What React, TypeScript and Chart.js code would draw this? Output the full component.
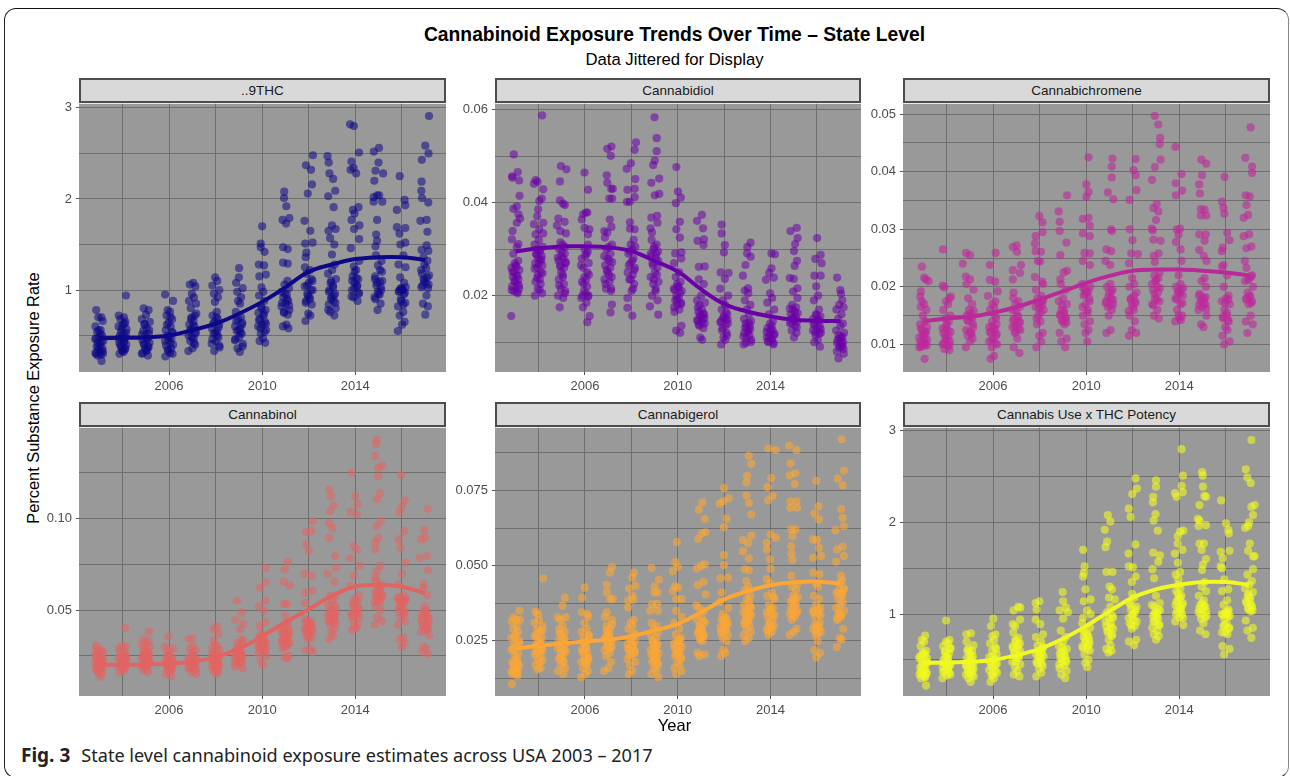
import React, { useEffect, useRef } from "react";
import { Chart, registerables } from "chart.js";

Chart.register(...registerables);

const YEARS = [2003, 2004, 2005, 2006, 2007, 2008, 2009, 2010, 2011, 2012, 2013, 2014, 2015, 2016, 2017];
const X_LABELS = [2006, 2010, 2014];
const X_GRID = [2004, 2006, 2008, 2010, 2012, 2014, 2016];
const JITTER = [-0.13, 0.09, -0.04, 0.15, -0.16, 0.06, -0.09, 0.12, 0.01, -0.17, 0.17, -0.06, 0.04, -0.11, 0.13, -0.02, 0.07, -0.14, 0.16, -0.07, 0.1, -0.03, 0.05];

// ---- ..9THC
const thcTrend = [0.47, 0.475, 0.48, 0.5, 0.56, 0.63, 0.74, 0.87, 1.03, 1.2, 1.28, 1.34, 1.36, 1.36, 1.33];
const thcDense = [
  [0.78, 0.7, 0.7, 0.66, 0.6, 0.56, 0.54, 0.5, 0.48, 0.46, 0.44, 0.42, 0.4, 0.38, 0.36, 0.34, 0.32, 0.3, 0.3, 0.28, 0.22],
  [0.94, 0.72, 0.7, 0.68, 0.65, 0.62, 0.6, 0.57, 0.54, 0.52, 0.5, 0.48, 0.46, 0.44, 0.42, 0.4, 0.38, 0.36, 0.34, 0.32, 0.3],
  [0.8, 0.78, 0.73, 0.68, 0.65, 0.62, 0.58, 0.55, 0.52, 0.5, 0.47, 0.45, 0.42, 0.4, 0.38, 0.36, 0.34, 0.31, 0.28],
  [0.95, 0.88, 0.78, 0.76, 0.72, 0.68, 0.64, 0.6, 0.56, 0.53, 0.5, 0.47, 0.45, 0.42, 0.39, 0.36, 0.33, 0.3, 0.27],
  [1.08, 1.06, 1.04, 0.96, 0.92, 0.88, 0.85, 0.8, 0.72, 0.7, 0.66, 0.62, 0.6, 0.57, 0.54, 0.5, 0.47, 0.44, 0.4, 0.36, 0.33],
  [1.14, 1.1, 1.05, 1.0, 0.96, 0.92, 0.87, 0.76, 0.72, 0.68, 0.65, 0.62, 0.58, 0.55, 0.52, 0.48, 0.44, 0.41, 0.37, 0.33],
  [1.02, 0.98, 0.92, 0.88, 0.85, 0.76, 0.7, 0.68, 0.64, 0.6, 0.58, 0.55, 0.52, 0.48, 0.45, 0.41, 0.36, 0.32],
  [1.03, 0.98, 0.94, 0.88, 0.82, 0.78, 0.75, 0.72, 0.68, 0.65, 0.62, 0.6, 0.56, 0.52, 0.47, 0.44, 0.42],
  [1.1, 1.06, 1.02, 0.98, 0.95, 0.92, 0.88, 0.85, 0.82, 0.78, 0.75, 0.62, 0.6, 0.58],
  [1.25, 1.22, 1.18, 1.12, 1.08, 1.04, 1.0, 0.96, 0.92, 0.88, 0.84, 0.74, 0.72, 0.66],
  [1.28, 1.22, 1.18, 1.12, 1.08, 1.05, 1.0, 0.96, 0.92, 0.88, 0.84, 0.8, 0.76, 0.72],
  [1.32, 1.26, 1.22, 1.15, 1.12, 1.08, 1.04, 1.0, 0.96, 0.92, 0.88],
  [1.38, 1.32, 1.27, 1.22, 1.15, 1.1, 1.08, 1.03, 0.98, 0.95, 0.9, 0.85, 0.78],
  [1.38, 1.28, 1.25, 1.14, 1.08, 1.02, 1.0, 0.98, 0.95, 0.9, 0.86, 0.82, 0.76, 0.72, 0.65, 0.62, 0.55],
  [1.36, 1.32, 1.28, 1.24, 1.18, 1.14, 1.1, 1.06, 1.03, 0.94, 0.85, 0.82, 0.73],
];
const thcCore = [
  [0.56, 0.52, 0.47, 0.43, 0.37, 0.33, 0.31, 0.29], [0.63, 0.58, 0.53, 0.47, 0.43, 0.39, 0.35, 0.33], [0.63, 0.56, 0.51, 0.46, 0.41, 0.37, 0.33, 0.3],
  [0.7, 0.62, 0.54, 0.49, 0.44, 0.4, 0.35, 0.31], [0.74, 0.68, 0.61, 0.55, 0.52, 0.48, 0.42], [0.7, 0.63, 0.59, 0.53, 0.5, 0.46, 0.39],
  [0.66, 0.62, 0.56, 0.53, 0.46, 0.38], [0.8, 0.74, 0.67, 0.63, 0.58, 0.54], [0.96, 0.9, 0.86, 0.83, 0.76, 0.73], [1.1, 1.05, 1.0, 0.94, 0.9, 0.86],
  [1.1, 1.03, 0.98, 0.94, 0.9, 0.86, 0.78], [1.2, 1.13, 1.1, 1.05, 1.02, 0.97, 0.93], [1.2, 1.12, 1.09, 1.05, 1.0, 0.96, 0.92], [1.03, 1.01, 1.0, 0.99, 0.97, 0.88, 0.84], [1.22, 1.16, 1.12, 1.08, 1.05, 1.02],
];
const thcUpper = [
  [2017.17, 2.91], [2017.01, 2.585], [2017.15, 2.5], [2016.86, 2.43], [2016.85, 2.19], [2016.84, 2.09], [2016.87, 2.01], [2017.14, 1.96], [2016.8, 1.76], [2017.07, 1.77], [2017.1, 1.64], [2017.07, 1.49], [2016.85, 1.44], [2017.14, 1.43],
  [2015.91, 2.25], [2016.12, 1.99], [2016.15, 1.93], [2015.79, 1.88], [2015.79, 1.69], [2016.15, 1.68], [2015.9, 1.62], [2016.15, 1.52], [2015.94, 1.5],
  [2015.02, 2.56], [2014.8, 2.52], [2015, 2.4], [2014.87, 2.31], [2015.2, 2.28], [2014.82, 2.2], [2014.94, 2.04], [2014.79, 2.02], [2014.79, 1.97], [2015.16, 1.97], [2015.03, 2.04], [2014.94, 1.77], [2014.9, 1.61], [2014.94, 1.54], [2014.87, 1.48],
  [2013.78, 2.82], [2013.94, 2.8], [2014.16, 2.51], [2013.84, 2.41], [2013.8, 2.32], [2013.93, 2.34], [2014.04, 2.28], [2013.9, 1.88], [2014.14, 1.91], [2013.97, 1.84], [2013.84, 1.77], [2014.18, 1.71], [2013.95, 1.67], [2014.17, 1.56], [2013.81, 1.46],
  [2012.81, 2.47], [2012.86, 2.4], [2012.89, 2.28], [2013.05, 2.22], [2013.14, 2.09], [2012.84, 2.03], [2013.07, 1.91], [2013, 1.71], [2012.85, 1.65], [2013.16, 1.67], [2012.92, 1.57], [2013.1, 1.5], [2013, 1.39],
  [2012.18, 2.48], [2011.88, 2.37], [2012.1, 2.32], [2012.14, 2.16], [2011.96, 2.06], [2011.82, 1.76], [2012.07, 1.65], [2011.85, 1.51], [2012.17, 1.52], [2011.9, 1.41], [2011.87, 1.36],
  [2010.95, 2.08], [2010.94, 2.01], [2011.04, 1.92], [2010.88, 1.77], [2011.17, 1.79], [2011.03, 1.73], [2010.9, 1.47], [2011.1, 1.45], [2010.9, 1.3], [2011.1, 1.29],
  [2010, 1.7], [2009.94, 1.51], [2009.94, 1.47], [2010.1, 1.42], [2009.86, 1.28], [2010.08, 1.27], [2009.88, 1.15], [2010.16, 1.17],
  [2009.01, 1.24], [2009, 1.14], [2008.88, 1.08],
];

// ---- Cannabidiol
const cbdTrend = [0.0295, 0.0302, 0.0306, 0.0306, 0.0304, 0.0296, 0.0275, 0.0252, 0.0214, 0.0182, 0.0166, 0.0155, 0.0148, 0.0146, 0.0145];
const cbdDense = [
  [0.0305, 0.029, 0.0275, 0.0265, 0.026, 0.0255, 0.025, 0.0245, 0.024, 0.0235, 0.023, 0.0225, 0.022, 0.0215, 0.021, 0.0205],
  [0.032, 0.031, 0.0305, 0.03, 0.0295, 0.029, 0.0285, 0.028, 0.0275, 0.027, 0.0265, 0.026, 0.025, 0.0245, 0.0235, 0.023, 0.0225, 0.0215, 0.0205, 0.02],
  [0.0315, 0.031, 0.03, 0.029, 0.0285, 0.028, 0.0275, 0.027, 0.0265, 0.026, 0.025, 0.024, 0.0235, 0.0225, 0.0215, 0.021, 0.02, 0.0195, 0.0175],
  [0.031, 0.03, 0.029, 0.028, 0.027, 0.026, 0.025, 0.024, 0.0235, 0.023, 0.022, 0.021, 0.02, 0.0195, 0.0185, 0.0175],
  [0.0325, 0.031, 0.03, 0.029, 0.028, 0.0275, 0.0265, 0.026, 0.025, 0.024, 0.0235, 0.023, 0.0215, 0.021],
  [0.032, 0.031, 0.03, 0.029, 0.028, 0.027, 0.026, 0.025, 0.0245, 0.0235, 0.0225, 0.021, 0.0195],
  [0.032, 0.031, 0.03, 0.0295, 0.029, 0.028, 0.027, 0.026, 0.025, 0.024, 0.023, 0.0225, 0.021, 0.02, 0.019],
  [0.028, 0.027, 0.025, 0.024, 0.023, 0.022, 0.0215, 0.021, 0.02, 0.0195, 0.019, 0.0185, 0.018, 0.017, 0.0165, 0.0135, 0.0125, 0.012],
  [0.0235, 0.0225, 0.02, 0.019, 0.0185, 0.018, 0.017, 0.0165, 0.016, 0.0155, 0.015, 0.0145, 0.014, 0.0135, 0.013, 0.011, 0.0105],
  [0.0215, 0.02, 0.019, 0.018, 0.017, 0.016, 0.0155, 0.015, 0.0145, 0.014, 0.013, 0.012, 0.011, 0.0105, 0.0095],
  [0.0205, 0.019, 0.018, 0.017, 0.016, 0.015, 0.0145, 0.014, 0.0135, 0.013, 0.0125, 0.012, 0.0115, 0.011, 0.01, 0.0095],
  [0.0205, 0.0195, 0.0185, 0.017, 0.016, 0.0145, 0.014, 0.0135, 0.013, 0.0125, 0.012, 0.0115, 0.011, 0.0105, 0.01, 0.0095],
  [0.0195, 0.018, 0.0175, 0.017, 0.0165, 0.016, 0.0155, 0.015, 0.0145, 0.014, 0.0135, 0.0125, 0.012, 0.011],
  [0.022, 0.02, 0.019, 0.017, 0.016, 0.0155, 0.015, 0.0145, 0.014, 0.0135, 0.013, 0.0125, 0.012, 0.0115, 0.0105, 0.01, 0.009],
  [0.019, 0.018, 0.0175, 0.017, 0.016, 0.015, 0.014, 0.0135, 0.0125, 0.012, 0.0115, 0.011, 0.0105, 0.01, 0.0095, 0.009, 0.008, 0.0075, 0.0065],
];
const cbdCore = [
  [0.027, 0.0262, 0.0252, 0.0242, 0.0232, 0.0222, 0.0212, 0.0208], [0.0298, 0.0288, 0.0278, 0.0268, 0.0258, 0.0248, 0.0238, 0.0212], [0.0305, 0.0295, 0.0282, 0.0272, 0.0262, 0.0245, 0.0222, 0.0205],
  [0.0295, 0.0285, 0.0265, 0.0245, 0.0225, 0.0205, 0.02, 0.0198], [0.0305, 0.0285, 0.0272, 0.0255, 0.0245, 0.0225, 0.0215], [0.0305, 0.0295, 0.0275, 0.0265, 0.0255, 0.0235, 0.0215],
  [0.0305, 0.029, 0.0285, 0.0275, 0.0265, 0.0245, 0.0235, 0.0215], [0.0225, 0.0218, 0.0212, 0.0205, 0.0192, 0.0182, 0.0175], [0.0175, 0.0162, 0.0158, 0.0152, 0.0148, 0.0142, 0.0138],
  [0.0165, 0.0152, 0.0148, 0.0142, 0.0135, 0.0125, 0.0115], [0.0142, 0.0132, 0.0128, 0.0122, 0.0112, 0.0105, 0.0098], [0.0128, 0.0122, 0.0118, 0.0112, 0.0108, 0.0102, 0.0098],
  [0.0172, 0.0162, 0.0152, 0.0148, 0.0142, 0.0132], [0.0158, 0.0148, 0.0138, 0.0128, 0.0122, 0.0118], [0.0112, 0.0108, 0.0102, 0.0098, 0.0092, 0.0088, 0.0085],
];
const cbdUpper = [
  [2002.93, 0.0504], [2002.86, 0.0457], [2002.87, 0.0454], [2003.1, 0.0466], [2003.16, 0.0448], [2003.18, 0.0415], [2003.06, 0.0392], [2002.91, 0.0387], [2003.13, 0.0375], [2003.2, 0.0366], [2003.06, 0.0357], [2002.88, 0.0339], [2002.85, 0.0321], [2003.13, 0.0311], [2002.82, 0.0156],
  [2004.15, 0.0588], [2003.87, 0.0449], [2003.8, 0.0441], [2003.95, 0.0445], [2004.2, 0.0429], [2004.13, 0.0409], [2004.03, 0.0404], [2003.98, 0.0386], [2003.94, 0.0371], [2003.8, 0.0354], [2004.2, 0.0357], [2004.03, 0.0343], [2003.87, 0.0332], [2004.2, 0.0334],
  [2004.96, 0.0479], [2005.2, 0.0472], [2004.92, 0.0446], [2004.92, 0.0405], [2005.13, 0.0395], [2005.06, 0.0398], [2004.85, 0.0366], [2005.12, 0.0359], [2004.79, 0.0351], [2004.94, 0.0339], [2005.18, 0.0334],
  [2005.98, 0.0465], [2006.13, 0.0428], [2006.04, 0.0379], [2005.92, 0.0375], [2006.1, 0.0379], [2005.86, 0.0364], [2006.19, 0.0343], [2005.98, 0.0346], [2006.13, 0.0332], [2006.2, 0.0156], [2006.1, 0.0143],
  [2006.96, 0.0516], [2007.14, 0.0521], [2007.11, 0.0501], [2006.94, 0.0459], [2006.96, 0.0443], [2007.13, 0.043], [2007.2, 0.043], [2007.05, 0.0409], [2007.17, 0.0409], [2007.07, 0.0364], [2006.83, 0.0339], [2007.14, 0.0348], [2006.96, 0.0336], [2007.16, 0.0181], [2007.1, 0.0164],
  [2008.2, 0.053], [2008.14, 0.0514], [2007.98, 0.0485], [2007.8, 0.0473], [2008.17, 0.0451], [2007.83, 0.0428], [2008.14, 0.043], [2008.14, 0.0412], [2007.81, 0.0402], [2007.93, 0.0402], [2007.94, 0.0358], [2008.14, 0.0343], [2007.94, 0.0344], [2007.83, 0.0174], [2008.04, 0.0157],
  [2009, 0.0584], [2009.09, 0.0539], [2009.09, 0.0511], [2009.01, 0.0491], [2008.94, 0.0481], [2009.2, 0.0452], [2008.86, 0.0443], [2009.01, 0.0416], [2009.2, 0.0419], [2008.86, 0.0368], [2009.11, 0.0372], [2009.13, 0.0357], [2008.83, 0.0345], [2008.89, 0.0336], [2008.8, 0.0177], [2009.16, 0.0159],
  [2009.94, 0.0477], [2010.01, 0.0424], [2010.13, 0.0411], [2009.92, 0.0399], [2010.09, 0.0359], [2009.94, 0.0343], [2010.09, 0.0325], [2010.16, 0.0293], [2009.89, 0.0291],
  [2011.04, 0.0374], [2010.83, 0.0361], [2011.09, 0.0345], [2011.13, 0.0321], [2010.85, 0.0318], [2011.11, 0.0309], [2011.16, 0.0263], [2010.91, 0.0262],
  [2011.89, 0.0353], [2011.89, 0.0334], [2012.03, 0.0309], [2011.99, 0.0293], [2011.85, 0.025], [2012.19, 0.0249], [2012.03, 0.0236],
  [2013.14, 0.0314], [2013, 0.0305], [2012.99, 0.0291], [2013.14, 0.0284], [2012.92, 0.0266], [2012.81, 0.0243], [2013.03, 0.0216], [2012.89, 0.0211],
  [2014.04, 0.0291], [2014.19, 0.0289], [2014.04, 0.0259], [2013.94, 0.0249], [2014.14, 0.0239], [2013.8, 0.0234],
  [2014.86, 0.0339], [2015.13, 0.0346], [2015.17, 0.0324], [2015.06, 0.0311], [2015.01, 0.0296], [2015.14, 0.0275], [2015.04, 0.0264], [2014.83, 0.0238], [2015, 0.0236], [2015.16, 0.0216], [2014.97, 0.0209],
  [2016.01, 0.0324], [2016.16, 0.0288], [2015.93, 0.0279], [2016.2, 0.027], [2015.89, 0.0243], [2016.16, 0.0243],
  [2016.87, 0.0239], [2017.01, 0.0212], [2017.04, 0.0204],
];

// ---- Cannabichromene
const cbcTrend = [0.014, 0.0145, 0.0148, 0.0155, 0.0165, 0.0178, 0.0192, 0.0207, 0.0219, 0.0228, 0.023, 0.023, 0.0228, 0.0225, 0.022];
const cbcDense = [
  [0.0175, 0.017, 0.0165, 0.016, 0.015, 0.014, 0.0135, 0.013, 0.0125, 0.012, 0.0115, 0.011, 0.0105, 0.0102, 0.01, 0.0098, 0.0095, 0.0075],
  [0.018, 0.0175, 0.017, 0.016, 0.015, 0.0145, 0.014, 0.013, 0.0125, 0.012, 0.0115, 0.011, 0.0105, 0.01, 0.0098, 0.0092, 0.009],
  [0.0205, 0.0195, 0.018, 0.017, 0.016, 0.0155, 0.015, 0.0145, 0.014, 0.013, 0.0125, 0.012, 0.0115, 0.011, 0.0105, 0.0095],
  [0.0175, 0.017, 0.0165, 0.016, 0.015, 0.014, 0.0135, 0.013, 0.0125, 0.012, 0.0115, 0.011, 0.0105, 0.01, 0.0095, 0.008, 0.0075],
  [0.018, 0.0175, 0.017, 0.0165, 0.016, 0.015, 0.0145, 0.014, 0.0135, 0.013, 0.0125, 0.012, 0.011, 0.0095, 0.0085],
  [0.0205, 0.0195, 0.0185, 0.018, 0.0175, 0.017, 0.0165, 0.016, 0.015, 0.014, 0.0135, 0.012, 0.0115, 0.0105, 0.0095],
  [0.0205, 0.0195, 0.018, 0.0175, 0.017, 0.016, 0.0155, 0.015, 0.0145, 0.014, 0.0135, 0.012, 0.011, 0.0105, 0.0095],
  [0.0205, 0.02, 0.0195, 0.019, 0.0185, 0.018, 0.017, 0.016, 0.015, 0.014, 0.0135, 0.0125, 0.012, 0.0105],
  [0.0205, 0.02, 0.0195, 0.019, 0.018, 0.0175, 0.017, 0.0165, 0.016, 0.015, 0.0125, 0.012],
  [0.0215, 0.0205, 0.02, 0.019, 0.018, 0.0175, 0.017, 0.016, 0.015, 0.014, 0.0125, 0.012, 0.0115],
  [0.0225, 0.022, 0.0215, 0.021, 0.02, 0.0195, 0.019, 0.018, 0.0175, 0.017, 0.016, 0.015, 0.0145],
  [0.022, 0.0205, 0.02, 0.0195, 0.019, 0.0185, 0.018, 0.017, 0.016, 0.015, 0.0145, 0.014],
  [0.0215, 0.021, 0.02, 0.0185, 0.018, 0.0175, 0.017, 0.0165, 0.016, 0.015, 0.0135, 0.013],
  [0.0235, 0.022, 0.02, 0.0185, 0.018, 0.0175, 0.017, 0.016, 0.015, 0.0145, 0.014, 0.013, 0.0125, 0.0115, 0.0105, 0.01],
  [0.022, 0.0215, 0.021, 0.02, 0.019, 0.0185, 0.018, 0.0175, 0.017, 0.015, 0.014, 0.0135, 0.012],
];
const cbcCore = [
  [0.0128, 0.0122, 0.0118, 0.0112, 0.0108, 0.0102, 0.0098, 0.0096], [0.0135, 0.0128, 0.0122, 0.0115, 0.0108, 0.0102, 0.0098], [0.0158, 0.015, 0.0148, 0.0142, 0.0135, 0.0122, 0.0118],
  [0.0145, 0.0132, 0.0128, 0.0122, 0.0118, 0.0108, 0.0102], [0.0158, 0.0148, 0.0142, 0.0138, 0.0132, 0.0128, 0.0122], [0.0178, 0.0172, 0.0168, 0.0162, 0.0155, 0.0145],
  [0.0168, 0.0158, 0.0152, 0.0148, 0.0142, 0.0138], [0.0198, 0.0192, 0.0188, 0.0175, 0.0165, 0.0155], [0.0192, 0.0182, 0.0178, 0.0172, 0.0168],
  [0.0185, 0.0178, 0.0172, 0.0165, 0.0158], [0.0212, 0.0205, 0.0198, 0.0188, 0.0178, 0.0168], [0.0198, 0.0192, 0.0188, 0.0178, 0.0172, 0.015, 0.0142],
  [0.0188, 0.0182, 0.0178, 0.0172, 0.0168, 0.0162], [0.0178, 0.0172, 0.0155, 0.0148, 0.0142], [0.0218, 0.0212, 0.0182, 0.0178, 0.0172],
];
const cbcUpper = [
  [2002.94, 0.0235], [2003.04, 0.0216], [2003.11, 0.0213], [2003.23, 0.021], [2002.9, 0.0192], [2002.87, 0.0183],
  [2003.85, 0.0265], [2003.91, 0.0199], [2003.84, 0.0202], [2004.19, 0.0183],
  [2004.84, 0.0259], [2005.01, 0.0255], [2004.7, 0.024], [2004.83, 0.0218], [2005.01, 0.0213],
  [2006.11, 0.0259], [2005.86, 0.0238], [2005.86, 0.0212], [2006.09, 0.0209], [2006.2, 0.0192], [2005.78, 0.0184],
  [2006.85, 0.0269], [2007.01, 0.0272], [2007.03, 0.0261], [2007.2, 0.0238], [2006.85, 0.0229], [2007.16, 0.0224], [2006.85, 0.0213], [2006.88, 0.019],
  [2007.99, 0.0323], [2008.12, 0.0312], [2008.13, 0.0295], [2007.83, 0.0288], [2007.8, 0.0275], [2008.06, 0.0261], [2007.83, 0.0262], [2007.93, 0.0245], [2008.02, 0.0244], [2007.8, 0.0217], [2008.1, 0.0209],
  [2009.18, 0.0359], [2008.82, 0.0331], [2008.86, 0.0313], [2008.86, 0.0297], [2009.15, 0.0277], [2008.89, 0.0255], [2009.18, 0.0228], [2009.04, 0.0225], [2008.89, 0.0213],
  [2010.1, 0.0425], [2010.01, 0.0378], [2010.1, 0.0365], [2010.01, 0.0356], [2009.86, 0.0318], [2010.1, 0.032], [2010.16, 0.0306], [2009.86, 0.0293], [2010.16, 0.0288], [2009.93, 0.0259], [2010.16, 0.0258], [2009.86, 0.0245], [2010.16, 0.0238],
  [2011.13, 0.0423], [2011.1, 0.0409], [2011.1, 0.039], [2010.93, 0.0364], [2011.17, 0.0352], [2011.07, 0.03], [2011.11, 0.0297], [2010.87, 0.0265], [2011.07, 0.0262], [2010.83, 0.0245], [2011.03, 0.0238],
  [2012.13, 0.0422], [2012.04, 0.0403], [2012.13, 0.0394], [2012.16, 0.0368], [2011.87, 0.0351], [2011.87, 0.03], [2011.99, 0.0281], [2011.94, 0.0258], [2012.23, 0.0257], [2011.84, 0.0241],
  [2012.95, 0.0497], [2013.1, 0.0482], [2013.18, 0.0459], [2013.16, 0.0448], [2013.2, 0.0421], [2012.95, 0.0408], [2012.83, 0.0386], [2013.03, 0.0344], [2012.89, 0.0337], [2013.1, 0.0331], [2013, 0.0316], [2012.82, 0.0301], [2012.87, 0.0298], [2012.89, 0.0282], [2013.2, 0.028], [2013.11, 0.0258], [2012.91, 0.0254], [2012.95, 0.0243],
  [2013.84, 0.0443], [2014.1, 0.0396], [2013.85, 0.038], [2014.12, 0.0367], [2013.86, 0.0359], [2013.9, 0.03], [2014.04, 0.0301], [2013.97, 0.0291], [2013.86, 0.0278], [2014.06, 0.0265], [2014.1, 0.0245],
  [2014.95, 0.0421], [2015.16, 0.0414], [2014.98, 0.0394], [2014.86, 0.0378], [2014.89, 0.0362], [2014.93, 0.0335], [2015.09, 0.0334], [2014.93, 0.0324], [2015.16, 0.0324], [2014.86, 0.0291], [2015.14, 0.0291], [2015.09, 0.028], [2014.86, 0.0264], [2015.05, 0.0254], [2015.17, 0.0245],
  [2015.95, 0.0391], [2015.84, 0.0348], [2015.9, 0.0337], [2015.94, 0.0327], [2016.06, 0.0294], [2016.16, 0.0281], [2015.87, 0.0268], [2015.83, 0.0262], [2015.9, 0.0238],
  [2017.07, 0.0477], [2016.84, 0.0424], [2017.13, 0.0409], [2017.13, 0.0398], [2016.86, 0.0359], [2017.03, 0.0357], [2016.89, 0.0342], [2016.96, 0.0325], [2016.77, 0.032], [2017, 0.0291], [2016.77, 0.0288], [2017.1, 0.027], [2016.89, 0.0267], [2016.82, 0.0245], [2016.89, 0.0233],
];

// ---- Cannabinol
const cbnTrend = [0.0201, 0.0201, 0.0203, 0.0207, 0.0219, 0.0243, 0.0288, 0.0357, 0.0433, 0.0505, 0.0578, 0.0629, 0.0638, 0.0627, 0.0592];
const cbnDense = [
  [0.029, 0.028, 0.0275, 0.027, 0.026, 0.025, 0.024, 0.023, 0.022, 0.021, 0.02, 0.019, 0.018, 0.017, 0.016, 0.015, 0.0135],
  [0.03, 0.029, 0.028, 0.027, 0.026, 0.025, 0.024, 0.023, 0.022, 0.021, 0.02, 0.019, 0.018, 0.017, 0.016],
  [0.034, 0.033, 0.032, 0.031, 0.03, 0.029, 0.028, 0.027, 0.026, 0.025, 0.024, 0.023, 0.022, 0.021, 0.02, 0.019, 0.018, 0.017, 0.016],
  [0.03, 0.029, 0.028, 0.027, 0.025, 0.024, 0.023, 0.022, 0.021, 0.02, 0.019, 0.018, 0.017, 0.016, 0.015, 0.014],
  [0.03, 0.029, 0.028, 0.026, 0.025, 0.024, 0.023, 0.022, 0.021, 0.02, 0.019, 0.018, 0.017, 0.016, 0.015],
  [0.031, 0.03, 0.029, 0.028, 0.027, 0.026, 0.025, 0.024, 0.023, 0.022, 0.021, 0.02, 0.019, 0.018, 0.017, 0.016, 0.015],
  [0.033, 0.032, 0.031, 0.03, 0.029, 0.028, 0.027, 0.026, 0.025, 0.024, 0.023, 0.022, 0.021, 0.02, 0.019, 0.018],
  [0.037, 0.036, 0.035, 0.034, 0.033, 0.032, 0.031, 0.03, 0.029, 0.028, 0.027, 0.026, 0.025, 0.022, 0.02],
  [0.042, 0.04, 0.039, 0.038, 0.037, 0.036, 0.035, 0.034, 0.033, 0.032, 0.031, 0.03, 0.029, 0.025, 0.024, 0.0235],
  [0.045, 0.044, 0.043, 0.042, 0.041, 0.04, 0.039, 0.038, 0.037, 0.036, 0.035, 0.034, 0.029, 0.028, 0.027],
  [0.057, 0.055, 0.053, 0.051, 0.05, 0.049, 0.048, 0.047, 0.046, 0.045, 0.044, 0.043, 0.042, 0.04, 0.038, 0.036, 0.034],
  [0.058, 0.056, 0.055, 0.053, 0.051, 0.05, 0.048, 0.047, 0.046, 0.044, 0.042, 0.041, 0.04, 0.039],
  [0.066, 0.064, 0.063, 0.061, 0.059, 0.058, 0.057, 0.056, 0.055, 0.054, 0.052, 0.05, 0.046, 0.044, 0.042],
  [0.058, 0.057, 0.056, 0.055, 0.054, 0.052, 0.05, 0.049, 0.048, 0.046, 0.044, 0.042, 0.035, 0.034, 0.032, 0.03],
  [0.062, 0.058, 0.052, 0.05, 0.048, 0.047, 0.046, 0.045, 0.044, 0.042, 0.041, 0.04, 0.039, 0.038, 0.036, 0.03, 0.029, 0.027, 0.026],
];
const cbnCore = [
  [0.0245, 0.0235, 0.0225, 0.0215, 0.0205, 0.0195, 0.0185, 0.0175, 0.0165], [0.0245, 0.0235, 0.0225, 0.0215, 0.0205, 0.0195, 0.0185], [0.0265, 0.0255, 0.0245, 0.0235, 0.0225, 0.0215, 0.0205, 0.0195],
  [0.0245, 0.0225, 0.0215, 0.0205, 0.0195, 0.0185, 0.0175], [0.0235, 0.0225, 0.0215, 0.0205, 0.0195, 0.0185, 0.0175], [0.0255, 0.0245, 0.0225, 0.0215, 0.0205, 0.0195, 0.0185, 0.0175],
  [0.0285, 0.0265, 0.0255, 0.0245, 0.0235, 0.0225, 0.0215], [0.0345, 0.0325, 0.0315, 0.0305, 0.0295, 0.0285], [0.0395, 0.0375, 0.0365, 0.0355, 0.0345, 0.0335, 0.0325, 0.0315],
  [0.0435, 0.0425, 0.0415, 0.0405, 0.0395, 0.0385, 0.0375], [0.0525, 0.0495, 0.0475, 0.0465, 0.0455, 0.0445, 0.0425], [0.0545, 0.0525, 0.0505, 0.0485, 0.0475, 0.0465],
  [0.0625, 0.0605, 0.0585, 0.0565, 0.0545], [0.0565, 0.0555, 0.0545, 0.0535, 0.0515, 0.0485], [0.0495, 0.0475, 0.0455, 0.0435, 0.0415, 0.0395],
];
const cbnUpper = [
  [2002.88, 0.0306], [2004.11, 0.0402], [2003.99, 0.0306], [2005.14, 0.0382], [2005.97, 0.0355], [2006.84, 0.0342], [2007, 0.0346],
  [2008.06, 0.0411], [2007.92, 0.0397], [2008.12, 0.037], [2007.92, 0.0333],
  [2008.92, 0.0551], [2009.11, 0.0487], [2008.84, 0.0447], [2009.2, 0.0424], [2009.06, 0.0397], [2009.13, 0.0342],
  [2010.14, 0.073], [2010.14, 0.065], [2009.9, 0.0623], [2009.86, 0.052], [2010.14, 0.0551], [2010.07, 0.0496], [2009.9, 0.0415], [2010.14, 0.0433],
  [2011.1, 0.0764], [2010.97, 0.0723], [2010.93, 0.0656], [2011.18, 0.0636], [2011.07, 0.0533], [2010.93, 0.0533], [2011, 0.0469], [2011.1, 0.0433],
  [2012.17, 0.0986], [2011.88, 0.0926], [2012.1, 0.0931], [2011.9, 0.0859], [2012, 0.0822], [2011.82, 0.0696], [2012.14, 0.0687], [2011.86, 0.0596], [2012.17, 0.0605], [2011.86, 0.0538],
  [2012.89, 0.1158], [2012.96, 0.1121], [2013.07, 0.1072], [2012.92, 0.104], [2012.88, 0.0976], [2013.03, 0.0949], [2012.88, 0.0895], [2013.14, 0.0795], [2013.18, 0.0732], [2012.82, 0.0699], [2013.11, 0.0654], [2012.92, 0.0578],
  [2013.86, 0.125], [2014, 0.1121], [2014.1, 0.1076], [2013.81, 0.1036], [2014.07, 0.1022], [2013.93, 0.085], [2014.07, 0.0828], [2013.78, 0.0783], [2014.18, 0.0741], [2013.93, 0.0687], [2013.78, 0.0632],
  [2014.93, 0.1429], [2014.9, 0.1406], [2014.86, 0.1342], [2015.16, 0.129], [2014.99, 0.1275], [2014.99, 0.123], [2015.06, 0.1139], [2014.93, 0.1107], [2015.09, 0.0986], [2014.93, 0.0958], [2015, 0.0895], [2014.86, 0.0868], [2014.86, 0.0832], [2015.09, 0.0741], [2014.93, 0.0714], [2014.86, 0.0678],
  [2015.97, 0.1239], [2016.13, 0.11], [2016.01, 0.1067], [2015.9, 0.1034], [2016.11, 0.0931], [2015.87, 0.0886], [2015.94, 0.0841], [2016.15, 0.0759], [2016.01, 0.0696], [2015.87, 0.0641],
  [2017.11, 0.1053], [2016.97, 0.0937], [2016.83, 0.0886], [2017.01, 0.0895], [2016.77, 0.0786], [2017.09, 0.0795], [2017.13, 0.0717], [2016.93, 0.0641],
];

// ---- Cannabigerol
const cbgTrend = [0.0225, 0.0234, 0.0241, 0.0248, 0.0254, 0.0265, 0.0285, 0.0306, 0.0345, 0.0388, 0.0415, 0.0435, 0.0445, 0.0447, 0.044];
const cbgDense = [
  [0.03, 0.029, 0.028, 0.027, 0.026, 0.025, 0.024, 0.023, 0.022, 0.021, 0.02, 0.019, 0.018, 0.017, 0.016, 0.015, 0.0145, 0.014, 0.014, 0.0135],
  [0.032, 0.031, 0.03, 0.029, 0.028, 0.027, 0.026, 0.025, 0.024, 0.023, 0.022, 0.021, 0.02, 0.019, 0.018, 0.017, 0.016, 0.0155],
  [0.032, 0.03, 0.029, 0.028, 0.027, 0.026, 0.025, 0.024, 0.023, 0.022, 0.021, 0.02, 0.019, 0.018, 0.017, 0.016, 0.015, 0.014],
  [0.033, 0.031, 0.029, 0.028, 0.027, 0.026, 0.025, 0.024, 0.023, 0.022, 0.021, 0.02, 0.019, 0.018, 0.017, 0.016, 0.015, 0.014, 0.013],
  [0.033, 0.032, 0.03, 0.029, 0.028, 0.027, 0.026, 0.025, 0.024, 0.023, 0.022, 0.021, 0.02, 0.018, 0.016, 0.015],
  [0.032, 0.031, 0.03, 0.029, 0.027, 0.026, 0.025, 0.024, 0.023, 0.022, 0.021, 0.02, 0.019, 0.018, 0.017, 0.015, 0.014],
  [0.031, 0.03, 0.029, 0.028, 0.027, 0.026, 0.025, 0.024, 0.023, 0.022, 0.021, 0.02, 0.019, 0.018, 0.017, 0.016, 0.015, 0.014, 0.013],
  [0.033, 0.031, 0.029, 0.027, 0.026, 0.025, 0.024, 0.023, 0.022, 0.021, 0.02, 0.019, 0.018, 0.017, 0.016, 0.015, 0.014],
  [0.036, 0.035, 0.033, 0.032, 0.031, 0.03, 0.029, 0.028, 0.027, 0.026, 0.025, 0.021, 0.0205, 0.02],
  [0.038, 0.036, 0.034, 0.033, 0.032, 0.031, 0.03, 0.029, 0.028, 0.027, 0.026, 0.025, 0.022, 0.021, 0.02],
  [0.043, 0.042, 0.04, 0.039, 0.038, 0.037, 0.036, 0.035, 0.034, 0.033, 0.032, 0.031, 0.03, 0.029, 0.028, 0.027, 0.026, 0.025],
  [0.044, 0.041, 0.04, 0.039, 0.037, 0.036, 0.035, 0.034, 0.033, 0.032, 0.031, 0.03, 0.029, 0.028, 0.027],
  [0.044, 0.043, 0.042, 0.04, 0.039, 0.038, 0.037, 0.036, 0.035, 0.034, 0.033, 0.032, 0.029, 0.028, 0.027],
  [0.044, 0.043, 0.04, 0.039, 0.037, 0.036, 0.035, 0.034, 0.033, 0.031, 0.03, 0.029, 0.028, 0.027, 0.025, 0.022, 0.021, 0.0195],
  [0.045, 0.044, 0.042, 0.041, 0.04, 0.039, 0.038, 0.037, 0.036, 0.035, 0.034, 0.033, 0.032, 0.029, 0.026, 0.0255, 0.023],
];
const cbgCore = [
  [0.0262, 0.0242, 0.0222, 0.0182, 0.0172, 0.0162, 0.0152, 0.0148], [0.0285, 0.0265, 0.0245, 0.0235, 0.0225, 0.0215, 0.0205, 0.0185], [0.0275, 0.0255, 0.0245, 0.0225, 0.0215, 0.0195, 0.0185],
  [0.0265, 0.0245, 0.0225, 0.0215, 0.0195, 0.0185, 0.0175], [0.0305, 0.0285, 0.0265, 0.0255, 0.0245, 0.0235, 0.0225], [0.0275, 0.0255, 0.0235, 0.0225, 0.0215, 0.0205],
  [0.0245, 0.0235, 0.0225, 0.0215, 0.0205, 0.0195, 0.0185, 0.0175], [0.0255, 0.0245, 0.0235, 0.0225, 0.0215, 0.0205, 0.0195], [0.0315, 0.0295, 0.0285, 0.0275, 0.0265, 0.0255],
  [0.0325, 0.0315, 0.0305, 0.0295, 0.0285, 0.0275], [0.0365, 0.0355, 0.0345, 0.0335, 0.0325, 0.0315, 0.0305], [0.0395, 0.0355, 0.0345, 0.0335, 0.0305, 0.0295, 0.0285],
  [0.0395, 0.0385, 0.0375, 0.0355, 0.0345, 0.0335], [0.0355, 0.0345, 0.0335, 0.0305, 0.0295, 0.0285, 0.0275], [0.0425, 0.0415, 0.0405, 0.0345, 0.0335, 0.0325],
];
const cbgUpper = [
  [2003.18, 0.0351], [2002.85, 0.0315], [2003.03, 0.032], [2003.2, 0.032], [2002.93, 0.0328], [2002.85, 0.0107],
  [2004.2, 0.0458], [2003.87, 0.0347], [2003.97, 0.0339],
  [2005.13, 0.0394], [2005.03, 0.0367], [2004.83, 0.0328], [2005.17, 0.0328],
  [2005.98, 0.0427], [2005.87, 0.0393], [2005.86, 0.0345], [2006.1, 0.0339],
  [2007.16, 0.0496], [2007.08, 0.0477], [2006.94, 0.0436], [2006.94, 0.0411], [2007.08, 0.0389], [2007.2, 0.0389], [2006.94, 0.0345],
  [2008.11, 0.0477], [2008.04, 0.046], [2007.9, 0.0424], [2008.17, 0.0433], [2008.04, 0.04], [2007.86, 0.0383], [2008.07, 0.0387], [2007.86, 0.0361],
  [2008.87, 0.0492], [2009.19, 0.0454], [2009, 0.0431], [2009.13, 0.0411], [2008.99, 0.0411], [2008.89, 0.0372], [2009.11, 0.0372], [2009.13, 0.035], [2008.81, 0.035],
  [2009.96, 0.0578], [2009.89, 0.0512], [2010, 0.0496], [2009.78, 0.0482], [2009.89, 0.0431], [2010, 0.0427], [2009.78, 0.0416], [2010.16, 0.0389], [2009.93, 0.0389], [2009.93, 0.035],
  [2011.06, 0.071], [2010.91, 0.0686], [2011.16, 0.0655], [2011.2, 0.0611], [2011.03, 0.0607], [2010.89, 0.0589], [2011.16, 0.0504], [2011.01, 0.0499], [2010.83, 0.0491], [2011.11, 0.0446], [2010.86, 0.0436], [2011.2, 0.0405], [2010.8, 0.0367],
  [2011.99, 0.0758], [2012.2, 0.0724], [2011.96, 0.0714], [2011.81, 0.0706], [2012.1, 0.0656], [2011.99, 0.0628], [2011.99, 0.0535], [2011.99, 0.0502], [2011.84, 0.0458], [2012.17, 0.046], [2011.89, 0.0411],
  [2013.06, 0.0865], [2013.17, 0.0838], [2012.99, 0.0798], [2012.96, 0.0776], [2012.96, 0.0733], [2013.07, 0.0708], [2013.17, 0.067], [2013.17, 0.06], [2012.81, 0.0585], [2013.03, 0.0576], [2012.81, 0.0548], [2013.06, 0.0524], [2012.89, 0.0488], [2013.06, 0.0485], [2012.96, 0.0449],
  [2013.9, 0.089], [2014.22, 0.0884], [2014.03, 0.0791], [2013.87, 0.0761], [2014.09, 0.0732], [2013.9, 0.0717], [2014, 0.0604], [2014.23, 0.0593], [2013.84, 0.0576], [2013.84, 0.0554], [2013.97, 0.0521], [2014, 0.049], [2013.84, 0.0455],
  [2014.8, 0.0898], [2015.12, 0.0884], [2014.86, 0.084], [2015.07, 0.0807], [2014.83, 0.08], [2015.04, 0.0771], [2014.86, 0.0714], [2015.12, 0.0714], [2014.86, 0.0692], [2015.14, 0.0692], [2014.9, 0.062], [2015.07, 0.062], [2014.94, 0.0598], [2014.89, 0.0565], [2014.9, 0.054], [2014.94, 0.0519], [2014.9, 0.0466],
  [2015.97, 0.0782], [2016.07, 0.0697], [2015.9, 0.0673], [2016.09, 0.0653], [2015.83, 0.0587], [2016, 0.0585], [2016.09, 0.0559], [2016.19, 0.0532], [2015.83, 0.0526], [2015.83, 0.0477], [2016.11, 0.0471],
  [2017.07, 0.092], [2017.17, 0.0816], [2016.9, 0.0789], [2017.11, 0.0767], [2017.04, 0.0688], [2017.11, 0.0659], [2017.16, 0.0631], [2016.8, 0.0618], [2017.11, 0.0563], [2016.87, 0.0554], [2017.16, 0.0532], [2016.83, 0.0513], [2017.04, 0.0466],
];

// ---- Cannabis Use x THC Potency
const cupTrend = [0.47, 0.47, 0.48, 0.5, 0.55, 0.62, 0.73, 0.87, 1.03, 1.18, 1.27, 1.32, 1.35, 1.35, 1.32];
const cupDense = [
  [0.72, 0.7, 0.65, 0.6, 0.58, 0.56, 0.54, 0.52, 0.5, 0.48, 0.46, 0.44, 0.42, 0.4, 0.38, 0.36, 0.34, 0.32, 0.3, 0.22],
  [0.72, 0.7, 0.68, 0.65, 0.62, 0.6, 0.57, 0.54, 0.52, 0.5, 0.48, 0.46, 0.44, 0.42, 0.4, 0.38, 0.36, 0.33, 0.3],
  [0.7, 0.66, 0.62, 0.6, 0.58, 0.55, 0.52, 0.5, 0.48, 0.46, 0.44, 0.42, 0.4, 0.38, 0.36, 0.34, 0.32, 0.3, 0.26],
  [0.78, 0.76, 0.72, 0.68, 0.64, 0.6, 0.56, 0.53, 0.5, 0.47, 0.45, 0.42, 0.39, 0.36, 0.33, 0.3, 0.26],
  [0.8, 0.74, 0.72, 0.68, 0.65, 0.62, 0.58, 0.55, 0.52, 0.48, 0.45, 0.42, 0.38, 0.34, 0.32],
  [0.78, 0.75, 0.7, 0.66, 0.62, 0.6, 0.57, 0.54, 0.52, 0.49, 0.46, 0.43, 0.4, 0.36, 0.32],
  [0.82, 0.75, 0.7, 0.65, 0.62, 0.58, 0.55, 0.52, 0.5, 0.47, 0.44, 0.41, 0.38, 0.34, 0.3],
  [0.9, 0.85, 0.8, 0.78, 0.75, 0.72, 0.7, 0.66, 0.63, 0.6, 0.56, 0.5, 0.47, 0.42],
  [1.08, 1.02, 0.98, 0.95, 0.9, 0.87, 0.84, 0.8, 0.76, 0.72, 0.66, 0.62, 0.6, 0.58],
  [1.22, 1.18, 1.12, 1.08, 1.05, 1.02, 0.98, 0.94, 0.9, 0.87, 0.84, 0.72, 0.7, 0.66],
  [1.12, 1.08, 1.05, 1.02, 1.0, 0.98, 0.95, 0.92, 0.88, 0.85, 0.82, 0.78, 0.76, 0.72],
  [1.32, 1.28, 1.25, 1.2, 1.16, 1.12, 1.1, 1.06, 1.03, 1.0, 0.96, 0.92, 0.88],
  [1.35, 1.3, 1.25, 1.2, 1.15, 1.1, 1.08, 1.05, 1.02, 0.98, 0.95, 0.9, 0.82, 0.78],
  [1.25, 1.15, 1.1, 1.05, 1.02, 1.0, 0.98, 0.95, 0.9, 0.87, 0.84, 0.8, 0.78, 0.65, 0.62, 0.56],
  [1.36, 1.32, 1.28, 1.24, 1.2, 1.15, 1.12, 1.08, 1.05, 1.03, 0.93, 0.85, 0.82, 0.74],
];
const cupCore = [
  [0.56, 0.52, 0.47, 0.43, 0.39, 0.37, 0.35, 0.33, 0.31], [0.63, 0.58, 0.53, 0.47, 0.45, 0.43, 0.41, 0.37, 0.34], [0.6, 0.54, 0.5, 0.47, 0.44, 0.41, 0.37, 0.33],
  [0.62, 0.54, 0.51, 0.48, 0.46, 0.42, 0.38, 0.34], [0.7, 0.66, 0.63, 0.6, 0.56, 0.52, 0.48], [0.64, 0.6, 0.58, 0.55, 0.52, 0.48, 0.46],
  [0.64, 0.6, 0.57, 0.54, 0.51, 0.48, 0.45], [0.82, 0.76, 0.72, 0.68, 0.65, 0.62], [0.96, 0.92, 0.86, 0.82, 0.78], [1.1, 1.05, 1.0, 0.96, 0.92, 0.88],
  [1.1, 1.04, 1.0, 0.96, 0.92, 0.88], [1.22, 1.18, 1.14, 1.1, 1.08, 1.04, 1.0, 0.96], [1.12, 1.09, 1.06, 1.03, 1.0, 0.96], [1.03, 1.01, 1.0, 0.99, 0.97, 0.88, 0.85, 0.8], [1.22, 1.18, 1.14, 1.1, 1.07, 1.04],
];
const cupUpper = [
  [2003.08, 0.765], [2003.98, 0.93], [2004.85, 0.78], [2005.05, 0.79], [2006.01, 0.95], [2005.91, 0.87],
  [2006.88, 1.04], [2007.08, 1.08], [2007.17, 1.07], [2007.16, 0.94], [2006.85, 0.89], [2006.95, 0.87],
  [2007.99, 1.14], [2007.83, 1.12], [2007.87, 1.05], [2007.83, 0.94], [2008.03, 0.89],
  [2008.99, 1.24], [2009.01, 1.14], [2009.13, 1.07], [2008.86, 1.04], [2009.22, 1.02], [2009.01, 0.95],
  [2009.87, 1.7], [2009.93, 1.52], [2009.9, 1.45], [2009.87, 1.41], [2009.97, 1.27], [2010.19, 1.16], [2009.9, 1.14], [2010.04, 1.04], [2010.19, 1.0], [2009.87, 0.96],
  [2010.93, 2.08], [2011.04, 2.01], [2010.8, 1.92], [2010.9, 1.79], [2010.83, 1.73], [2010.87, 1.46], [2011.13, 1.46], [2011.01, 1.3], [2011.11, 1.27], [2010.98, 1.18], [2011.23, 1.16],
  [2012.12, 2.48], [2012.18, 2.37], [2011.98, 2.31], [2011.83, 2.15], [2011.91, 2.06], [2012.12, 1.76], [2011.82, 1.66], [2011.83, 1.52], [2012.01, 1.51], [2012.13, 1.41], [2011.96, 1.35],
  [2013.0, 2.46], [2013.0, 2.39], [2012.88, 2.28], [2012.87, 2.22], [2012.98, 2.09], [2012.9, 2.02], [2013.08, 1.91], [2012.88, 1.67], [2013.17, 1.64], [2013.1, 1.57], [2012.85, 1.49], [2012.92, 1.39], [2013.0, 1.2],
  [2014.1, 2.8], [2014.16, 2.51], [2014.1, 2.4], [2014.15, 2.33], [2013.82, 2.32], [2013.89, 2.28], [2014.17, 1.91], [2014.04, 1.9], [2013.94, 1.85], [2013.93, 1.77], [2014.14, 1.7], [2013.81, 1.66], [2013.94, 1.56], [2014.04, 1.46], [2013.85, 1.43], [2013.96, 1.38],
  [2014.98, 2.55], [2015.01, 2.51], [2015.02, 2.39], [2015.08, 2.29], [2015.15, 2.28], [2014.87, 2.19], [2014.8, 2.04], [2014.87, 2.02], [2014.83, 1.96], [2015.15, 1.97], [2014.87, 1.77], [2015.06, 1.77], [2014.96, 1.7], [2015.15, 1.6], [2015.02, 1.54], [2014.98, 1.48],
  [2015.8, 2.24], [2016.01, 1.99], [2016.11, 1.92], [2016.13, 1.88], [2015.78, 1.68], [2016.16, 1.69], [2015.87, 1.61], [2015.78, 1.52], [2015.84, 1.5], [2015.93, 1.38], [2016.11, 1.27],
  [2017.1, 2.9], [2016.86, 2.58], [2016.93, 2.49], [2017.07, 2.43], [2017.24, 2.19], [2017.1, 2.17], [2017.17, 2.08], [2017.0, 2.0], [2016.96, 1.96], [2016.83, 1.94], [2017.03, 1.77], [2016.96, 1.69], [2017.17, 1.63], [2017.24, 1.63], [2017.17, 1.49], [2016.93, 1.43],
];

const JITTER_OFFSETS = [0, 5, 11];

type Panel = {
  title: string; left: number; top: number; width: number; height: number; xMin: number; xMax: number;
  yMin: number; yMax: number; yMajor: number[]; yMinor: number[]; digits: number; color: string; fill: string;
  trend: number[]; dense: number[][]; core: number[][]; upper: number[][];
};

const PANELS: Panel[] = [
  { title: "..9THC", left: 79, top: 102, width: 367, height: 270, xMin: 2002.13, xMax: 2017.9, yMin: 0.1, yMax: 3.045, yMajor: [1, 2, 3], yMinor: [0.5, 1.5, 2.5], digits: 0, color: "#0d0887", fill: "rgba(13,8,135,0.55)", trend: thcTrend, dense: thcDense, core: thcCore, upper: thcUpper },
  { title: "Cannabidiol", left: 495, top: 102, width: 366, height: 270, xMin: 2002.12, xMax: 2017.9, yMin: 0.00357, yMax: 0.0613, yMajor: [0.02, 0.04, 0.06], yMinor: [0.01, 0.03, 0.05], digits: 2, color: "#6a00a8", fill: "rgba(106,0,168,0.55)", trend: cbdTrend, dense: cbdDense, core: cbdCore, upper: cbdUpper },
  { title: "Cannabichromene", left: 903, top: 102, width: 367, height: 270, xMin: 2002.13, xMax: 2017.9, yMin: 0.00521, yMax: 0.0518, yMajor: [0.01, 0.02, 0.03, 0.04, 0.05], yMinor: [0.015, 0.025, 0.035, 0.045], digits: 2, color: "#b92a98", fill: "rgba(190,40,155,0.6)", trend: cbcTrend, dense: cbcDense, core: cbcCore, upper: cbcUpper },
  { title: "Cannabinol", left: 79, top: 426, width: 367, height: 270, xMin: 2002.13, xMax: 2017.9, yMin: 0.00304, yMax: 0.1496, yMajor: [0.05, 0.1], yMinor: [0.025, 0.075, 0.125], digits: 2, color: "#e16462", fill: "rgba(225,100,98,0.55)", trend: cbnTrend, dense: cbnDense, core: cbnCore, upper: cbnUpper },
  { title: "Cannabigerol", left: 495, top: 426, width: 366, height: 270, xMin: 2002.12, xMax: 2017.9, yMin: 0.0067, yMax: 0.0958, yMajor: [0.025, 0.05, 0.075], yMinor: [0.0125, 0.0375, 0.0625, 0.0875], digits: 3, color: "#fca636", fill: "rgba(252,166,54,0.6)", trend: cbgTrend, dense: cbgDense, core: cbgCore, upper: cbgUpper },
  { title: "Cannabis Use x THC Potency", left: 903, top: 426, width: 367, height: 270, xMin: 2002.13, xMax: 2017.9, yMin: 0.106, yMax: 3.033, yMajor: [1, 2, 3], yMinor: [0.5, 1.5, 2.5], digits: 0, color: "#f0f921", fill: "rgba(240,249,33,0.6)", trend: cupTrend, dense: cupDense, core: cupCore, upper: cupUpper },
];

const SANS = '"Liberation Sans", Arial, sans-serif';
const PAD_LEFT = 70;
const PAD_TOP = 10;
const PAD_BOTTOM = 40;
const PAD_RIGHT = 6;

const panelBackground = {
  id: "panelBackground",
  beforeDraw(chart: any) {
    const { ctx, chartArea: a } = chart;
    ctx.save();
    ctx.fillStyle = "#999999";
    ctx.fillRect(a.left, a.top, a.right - a.left, a.bottom - a.top);
    ctx.restore();
  },
};

function PanelChart({ panel, index }: { panel: Panel; index: number }) {
  const ref = useRef<HTMLCanvasElement>(null);
  useEffect(() => {
    if (!ref.current) return;
    const pts: { x: number; y: number }[] = [];
    panel.dense.forEach((vals, yi) => {
      [...vals, ...panel.core[yi]].forEach((v, i) => {
        const j = JITTER[(i + yi * 3 + JITTER_OFFSETS[index % 3]) % JITTER.length];
        pts.push({ x: YEARS[yi] + j, y: v });
      });
    });
    panel.upper.forEach((p) => pts.push({ x: p[0], y: p[1] }));
    const isMajorY = (v: number) => panel.yMajor.some((m) => Math.abs(m - v) < 1e-9);
    const isMajorX = (v: number) => X_LABELS.includes(v);
    const chart = new Chart(ref.current, {
      type: "scatter",
      data: {
        datasets: [
          {
            label: "Trend",
            data: YEARS.map((y, i) => ({ x: y, y: panel.trend[i] })),
            showLine: true,
            borderColor: panel.color,
            borderWidth: 4,
            pointRadius: 0,
            tension: 0.4,
            order: 0,
          } as any,
          {
            label: panel.title,
            data: pts,
            backgroundColor: panel.fill,
            borderWidth: 0,
            pointRadius: 4.1,
            order: 1,
          },
        ],
      },
      options: {
        animation: false,
        responsive: false,
        devicePixelRatio: 1,
        layout: { padding: { top: PAD_TOP, right: PAD_RIGHT, left: 0, bottom: 0 } },
        plugins: { legend: { display: false }, title: { display: false }, tooltip: { enabled: false } },
        scales: {
          x: {
            type: "linear",
            min: panel.xMin,
            max: panel.xMax,
            afterBuildTicks: (s: any) => { s.ticks = X_GRID.map((v) => ({ value: v })); },
            afterFit: (s: any) => { s.height = PAD_BOTTOM; },
            border: { display: false },
            grid: {
              color: "#6e6e6e",
              lineWidth: 1,
              tickLength: 3,
              tickColor: (c: any) => (isMajorX(c.tick?.value) ? "#555555" : "rgba(0,0,0,0)"),
            },
            ticks: {
              autoSkip: false,
              maxRotation: 0,
              padding: 4,
              color: "#4d4d4d",
              font: { family: SANS, size: 13 },
              callback: (v: any) => (isMajorX(v) ? String(v) : ""),
            },
          },
          y: {
            type: "linear",
            min: panel.yMin,
            max: panel.yMax,
            afterBuildTicks: (s: any) => {
              s.ticks = [...panel.yMajor, ...panel.yMinor].sort((a, b) => a - b).map((v) => ({ value: v }));
            },
            afterFit: (s: any) => { s.width = PAD_LEFT; },
            border: { display: false },
            grid: {
              color: "#6e6e6e",
              lineWidth: 1,
              tickLength: 3,
              tickColor: (c: any) => (isMajorY(c.tick?.value) ? "#555555" : "rgba(0,0,0,0)"),
            },
            ticks: {
              autoSkip: false,
              padding: 4,
              color: "#4d4d4d",
              font: { family: SANS, size: 13 },
              callback: (v: any) => (isMajorY(v) ? Number(v).toFixed(panel.digits) : ""),
            },
          },
        },
      },
      plugins: [panelBackground],
    } as any);
    return () => chart.destroy();
  }, [panel, index]);

  return (
    <>
      <canvas
        ref={ref}
        width={panel.width + PAD_LEFT + PAD_RIGHT}
        height={panel.height + PAD_TOP + PAD_BOTTOM}
        style={{
          position: "absolute",
          left: panel.left - PAD_LEFT,
          top: panel.top - PAD_TOP,
          width: panel.width + PAD_LEFT + PAD_RIGHT,
          height: panel.height + PAD_TOP + PAD_BOTTOM,
        }}
      />
      <div
        style={{
          position: "absolute",
          left: panel.left,
          top: panel.top - 24.5,
          width: panel.width,
          height: 25,
          boxSizing: "border-box",
          border: "2px solid #4d4d4d",
          background: "#d9d9d9",
          color: "#1a1a1a",
          font: `13.5px ${SANS}`,
          lineHeight: "21px",
          textAlign: "center",
        }}
      >
        {panel.title}
      </div>
    </>
  );
}

const textBase: React.CSSProperties = { position: "absolute", whiteSpace: "nowrap", color: "#000" };

export default function App() {
  return (
    <div style={{ position: "fixed", left: 0, top: 0, width: 1290, height: 776, overflow: "hidden", background: "#fff" }}>
      <div
        style={{
          position: "absolute", left: 4, top: 8, width: 1285, height: 770, boxSizing: "border-box",
          borderTop: "1.5px solid #111", borderLeft: "1px solid #222", borderRight: "1px solid #888",
          borderBottom: "1px solid #222", borderRadius: 12,
        }}
      />
      <div style={{ ...textBase, left: 0, width: 1349, top: 23.5, textAlign: "center", font: `bold 19.3px ${SANS}`, lineHeight: "22px" }}>
        Cannabinoid Exposure Trends Over Time – State Level
      </div>
      <div style={{ ...textBase, left: 0, width: 1349, top: 50.5, textAlign: "center", font: `16.7px ${SANS}`, lineHeight: "18px" }}>
        Data Jittered for Display
      </div>
      <div
        style={{
          ...textBase, left: 33, top: 398, font: `16.4px ${SANS}`, lineHeight: "18px",
          transform: "translate(-50%, -50%) rotate(-90deg)",
        }}
      >
        Percent Substance Exposure Rate
      </div>
      {PANELS.map((p, i) => (
        <PanelChart key={p.title} panel={p} index={i} />
      ))}
      <div style={{ ...textBase, left: 0, width: 1349, top: 716, textAlign: "center", font: `16.5px ${SANS}`, lineHeight: "18px" }}>
        Year
      </div>
      <div style={{ ...textBase, left: 21, top: 743, font: `18.1px "Noto Sans", "Open Sans", sans-serif`, lineHeight: "24px", color: "#222" }}>
        <b style={{ fontSize: 19 }}>Fig. 3</b>
        <span style={{ marginLeft: 11 }}>State level cannabinoid exposure estimates across USA 2003 – 2017</span>
      </div>
    </div>
  );
}
